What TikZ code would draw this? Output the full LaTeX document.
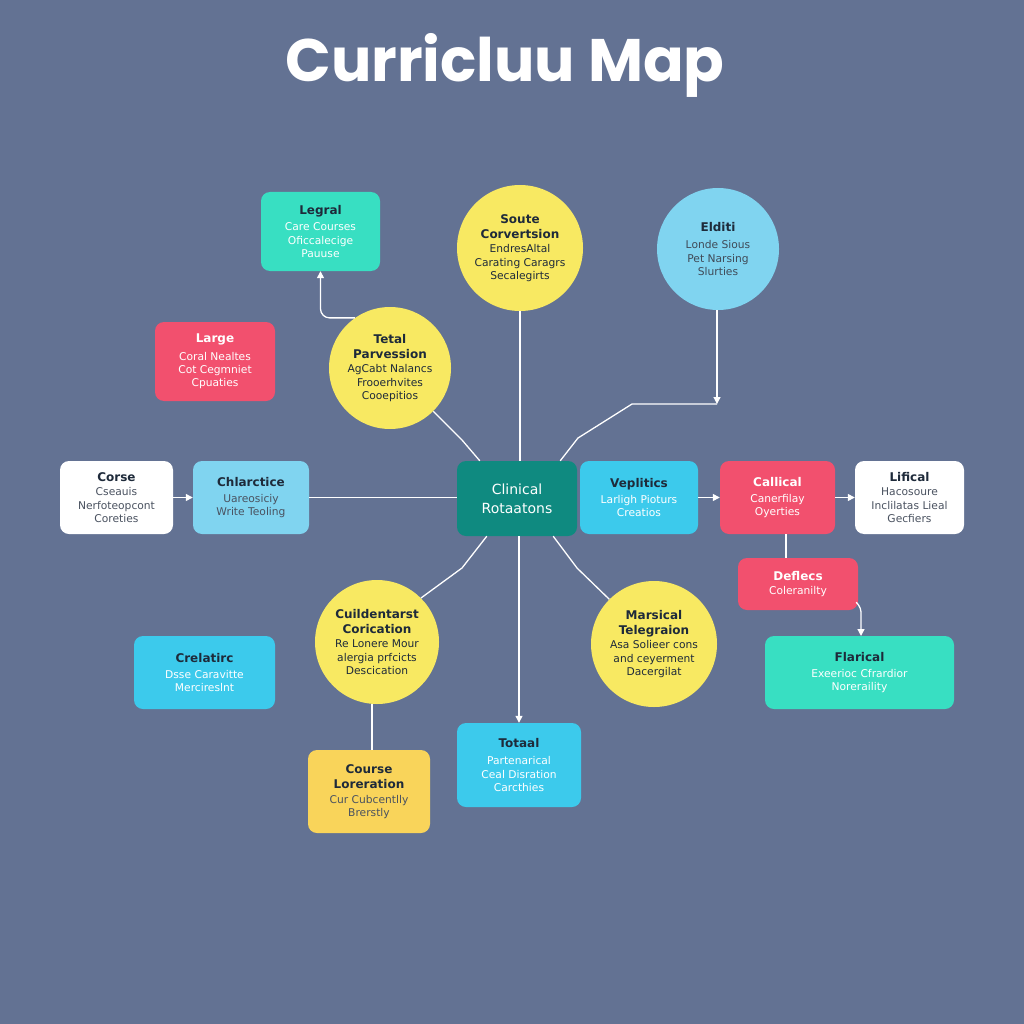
\documentclass[tikz,border=0pt]{standalone}
\usepackage{fontspec}
\setmainfont{DejaVu Sans}
\newfontfamily\titlefont{Poppins}
\usetikzlibrary{arrows.meta,calc}
\definecolor{bgc}{HTML}{637293}
\definecolor{tealL}{HTML}{38DFC2}
\definecolor{pinkc}{HTML}{F2506E}
\definecolor{yelc}{HTML}{F8E962}
\definecolor{lblue}{HTML}{80D4F0}
\definecolor{cyanc}{HTML}{3CCAEC}
\definecolor{tealD}{HTML}{0F8A80}
\definecolor{orc}{HTML}{F9D45A}
\definecolor{darkt}{HTML}{1E2A3A}
\definecolor{grayt}{HTML}{4A5260}
\newcommand\nttl[2]{{\fontsize{12}{15}\selectfont\bfseries\color{#1}#2}}
\tikzset{
  box/.style={rounded corners=9pt, align=center, inner sep=2pt, font=\fontsize{10.7}{13.3}\selectfont},
  circ/.style={circle, align=center, inner sep=0pt, font=\fontsize{10.7}{13.3}\selectfont},
  wire/.style={draw=white, line width=1.3pt, line join=round},
  arr/.style={wire, -{Triangle[length=7pt,width=7pt]}},
}
\begin{document}
\begin{tikzpicture}[x=1pt,y=-1pt]
\fill[bgc] (0,0) rectangle (1024,1024);
\useasboundingbox (0,0) rectangle (1024,1024);

\node[text=white, font=\titlefont\fontsize{60}{70}\selectfont\bfseries] (title) at (505,65) {Curricluu Map};

% top row
\node[box, fill=tealL, text=white, minimum width=119pt, minimum height=79pt] (legral) at (320.5,231.5)
  {\nttl{darkt}{Legral}\\[3pt]Care Courses\\Oficcalecige\\Pauuse};
\node[box, fill=pinkc, text=white, minimum width=120pt, minimum height=79pt] (large) at (215,361.5)
  {\nttl{white}{Large}\\[4pt]Coral Nealtes\\Cot Cegmniet\\Cpuaties};
\node[circ, fill=yelc, text=darkt, minimum size=122pt] (tetal) at (390,368)
  {\nttl{darkt}{Tetal}\\[2pt]\nttl{darkt}{Parvession}\\[1pt]AgCabt Nalancs\\Frooerhvites\\Cooepitios};
\node[circ, fill=yelc, text=darkt, minimum size=126pt] (soute) at (520,248)
  {\nttl{darkt}{Soute}\\[2pt]\nttl{darkt}{Corvertsion}\\[1pt]EndresAltal\\Carating Caragrs\\Secalegirts};
\node[circ, fill=lblue, text=darkt!85, minimum size=122pt] (elditi) at (718,249)
  {\nttl{darkt}{Elditi}\\[4pt]Londe Sious\\Pet Narsing\\Slurties};

% middle row
\node[box, fill=white, text=grayt, minimum width=113pt, minimum height=73pt] (corse) at (116.5,497.5)
  {\nttl{darkt}{Corse}\\[1pt]Cseauis\\Nerfoteopcont\\Coreties};
\node[box, fill=lblue, text=grayt, minimum width=116pt, minimum height=73pt] (chlar) at (251,497.5)
  {\nttl{darkt}{Chlarctice}\\[3pt]Uareosiciy\\Write Teoling};
\node[box, fill=tealD, text=white, minimum width=120pt, minimum height=75pt, font=\fontsize{14}{19}\selectfont] (clin) at (517,498.5)
  {Clinical\\Rotaatons};
\node[box, fill=cyanc, text=white, minimum width=118pt, minimum height=73pt] (vepl) at (639,497.5)
  {\nttl{darkt}{Veplitics}\\[3pt]Larligh Pioturs\\Creatios};
\node[box, fill=pinkc, text=white, minimum width=115pt, minimum height=73pt] (call) at (777.5,497.5)
  {\nttl{white}{Callical}\\[3pt]Canerfilay\\Oyerties};
\node[box, fill=white, text=grayt, minimum width=109pt, minimum height=73pt] (lifi) at (909.5,497.5)
  {\nttl{darkt}{Lifical}\\[1pt]Hacosoure\\Inclilatas Lieal\\Gecfiers};

% lower
\node[box, fill=pinkc, text=white, minimum width=120pt, minimum height=52pt] (defl) at (798,584)
  {\nttl{white}{Deflecs}\\[1pt]Coleranilty};
\node[box, fill=tealL, text=white, minimum width=189pt, minimum height=73pt] (flar) at (859.5,672.5)
  {\nttl{darkt}{Flarical}\\[3pt]Exeerioc Cfrardior\\Noreraility};
\node[box, fill=cyanc, text=white, minimum width=141pt, minimum height=73pt] (crel) at (204.5,672.5)
  {\nttl{darkt}{Crelatirc}\\[3pt]Dsse Caravitte\\Mercireslnt};
\node[circ, fill=yelc, text=darkt, minimum size=124pt] (cuild) at (377,642)
  {\nttl{darkt}{Cuildentarst}\\[2pt]\nttl{darkt}{Corication}\\[1pt]Re Lonere Mour\\alergia prfcicts\\Descication};
\node[box, fill=orc, text=grayt, minimum width=122pt, minimum height=83pt] (cours) at (369,791.5)
  {\nttl{darkt}{Course}\\[2pt]\nttl{darkt}{Loreration}\\[1pt]Cur Cubcentlly\\Brerstly};
\node[box, fill=cyanc, text=white, minimum width=124pt, minimum height=84pt] (totaal) at (519,765)
  {\nttl{darkt}{Totaal}\\[4pt]Partenarical\\Ceal Disration\\Carcthies};
\node[circ, fill=yelc, text=darkt, minimum size=126pt] (mars) at (654,644)
  {\nttl{darkt}{Marsical}\\[2pt]\nttl{darkt}{Telegraion}\\[1pt]Asa Solieer cons\\and ceyerment\\Dacergilat};

% connectors
\draw[arr, rounded corners=9pt] (tetal.125) -| (legral.south);
\draw[wire] (tetal.-45) -- (462,440) -- ($(clin.north west)+(23,0)$);
\draw[wire] (soute.south) -- (soute.south |- clin.north);
\coordinate (ej) at (717,404);
\draw[wire] ($(clin.north east)+(-17,0)$) -- (578,438) -- (632,404) -- (ej);
\draw[arr] (elditi.south -| ej) -- (ej);
\draw[wire] (chlar.east) -- (chlar.east -| clin.west);
\draw[arr] (corse.east) -- (chlar.west);
\draw[arr] (vepl.east) -- (call.west);
\draw[arr] (call.east) -- (lifi.west);
\coordinate (cd) at (786,534);
\draw[wire] (cd) -- (cd |- defl.north);
\coordinate (fl) at (861,636);
\draw[arr, rounded corners=4pt] ($(defl.south east)+(-2,-8)$) -- (861,608) -- (fl);
\draw[wire] ($(clin.south west)+(30,0)$) -- (462,568) -- (cuild.45);
\draw[arr] (clin.south -| totaal.north) -- (totaal.north);
\draw[wire] ($(clin.south east)+(-24,0)$) -- (577,568) -- (mars.135);
\coordinate (cc) at (372,704);
\draw[wire] (cc) -- (cc |- cours.north);
\end{tikzpicture}
\end{document}
